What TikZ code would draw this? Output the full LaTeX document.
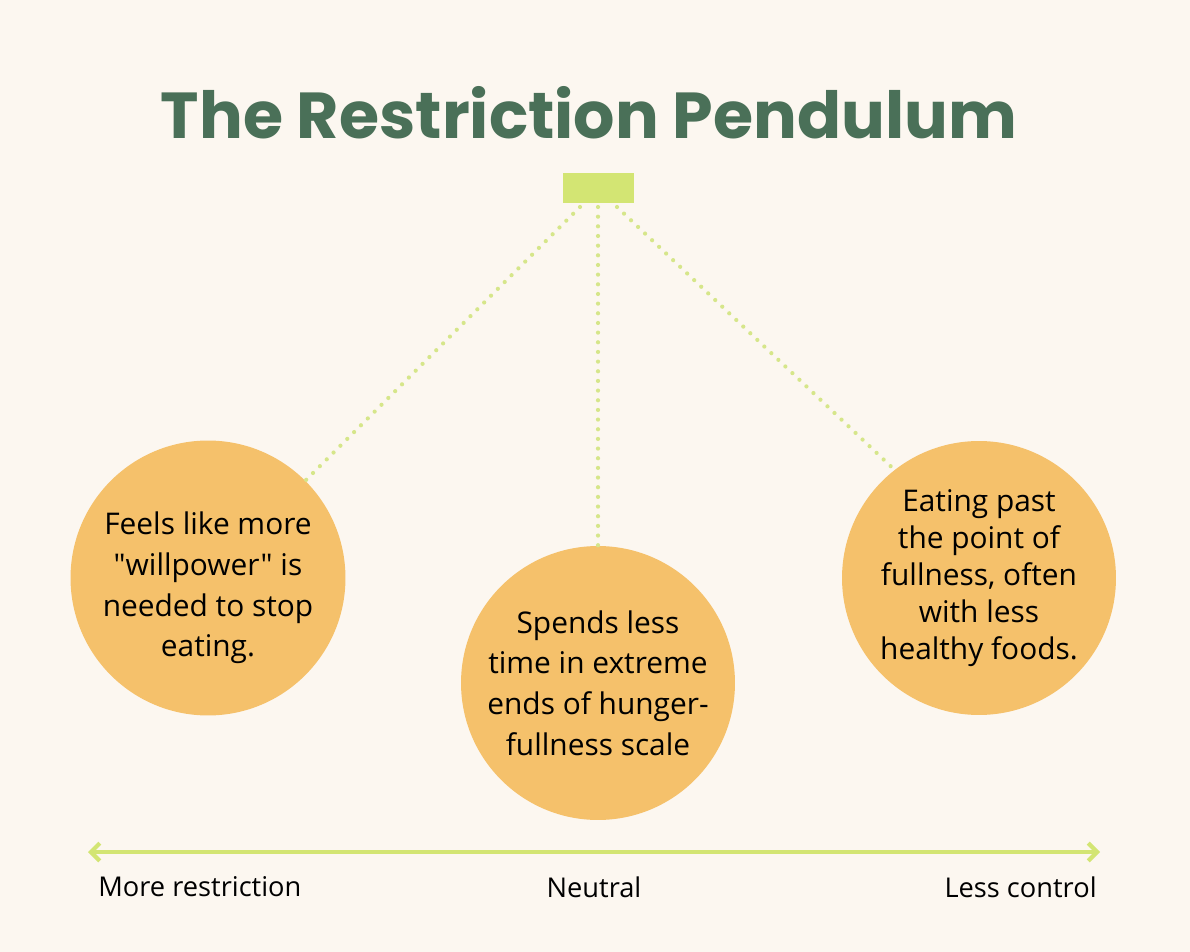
\documentclass[tikz,border=0pt]{standalone}
\usepackage{fontspec}
\usetikzlibrary{arrows.meta}
\newfontfamily\bodyfont{Open Sans}
\newfontfamily\titlefont{Poppins}
\definecolor{bg}{HTML}{FCF7F0}
\definecolor{ttl}{HTML}{4A7058}
\definecolor{lime}{HTML}{D3E573}
\definecolor{dotg}{HTML}{D6E68A}
\definecolor{orng}{HTML}{F5C16B}
\begin{document}
\begin{tikzpicture}[x=0.02cm,y=-0.02cm,
  bubble/.style={circle,fill=orng,minimum size=5.5cm,inner sep=0pt,align=center,font=\bodyfont\fontsize{17}{23.2}\selectfont},
  tether/.style={dotg,line width=2.4pt,dash pattern=on 0pt off 5.5pt,line cap=round},
  lab/.style={font=\bodyfont\fontsize{15.5}{17}\selectfont,inner sep=0pt}]
\fill[bg] (0,0) rectangle (1190,952);
\useasboundingbox (0,0) rectangle (1190,952);
\node[font=\titlefont\fontsize{37}{44}\selectfont\bfseries,text=ttl] (title) at (589,113) {The Restriction Pendulum};
\node[fill=lime,minimum width=1.42cm,minimum height=0.6cm,inner sep=0pt] (pivot) at (598.5,188) {};
\node[bubble] (l) at (208,578) {};
\node[align=center,font=\bodyfont\fontsize{17}{23.2}\selectfont] (lt) at (208,588) {Feels like more\\"willpower" is\\needed to stop\\eating.};
\node[bubble,minimum size=5.48cm] (m) at (598,683) {Spends less\\time in extreme\\ends of hunger-\\fullness scale};
\node[bubble,minimum size=5.48cm,font=\bodyfont\fontsize{17}{21}\selectfont] (r) at (979,578) {Eating past\\the point of\\fullness, often\\with less\\healthy foods.};
\coordinate (pl) at (580,207);\coordinate (pm) at (598,207);\coordinate (pr) at (617,207);
\draw[tether] (pl) -- (l.45);
\draw[tether] (pm) -- (m.north);
\draw[tether] (pr) -- (r.128);
\coordinate (a1) at (88,852);\coordinate (a2) at (1100,852);
\draw[lime,line width=2.4pt,{Straight Barb[length=5pt,width=10pt]}-{Straight Barb[length=5pt,width=10pt]}] (a1) -- (a2);
\node[lab,anchor=west] (t1) at (98,887) {More restriction};
\node[lab] (t2) at (594,887) {Neutral};
\node[lab,anchor=east] (t3) at (1097,887) {Less control};
\end{tikzpicture}
\end{document}
